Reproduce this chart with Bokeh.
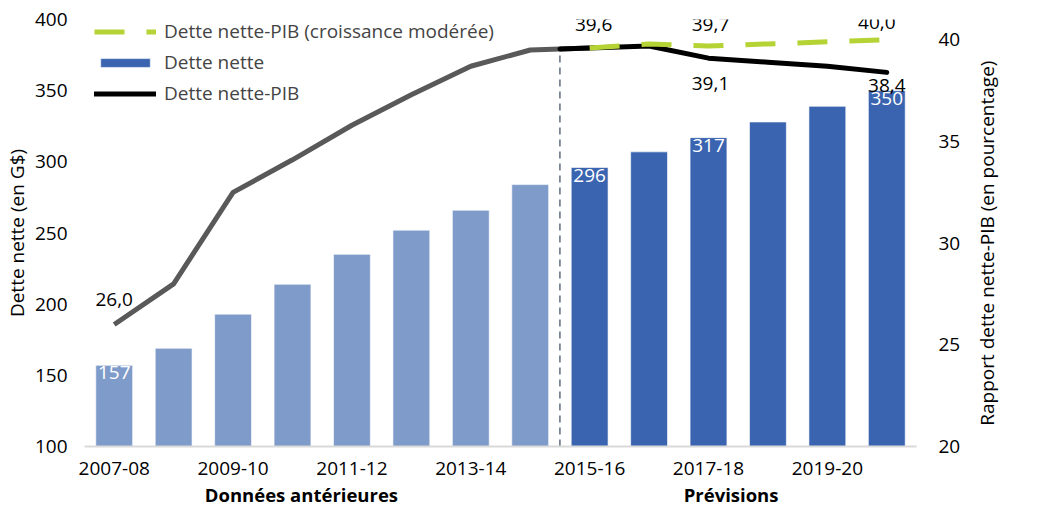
import math
from bokeh.plotting import figure
from bokeh.layouts import row
from bokeh.models import (Range1d, LinearAxis, FixedTicker, Legend, LegendItem,
                          ColumnDataSource, LabelSet, Label)
from bokeh.core.properties import value
from bokeh.embed import file_html
from bokeh.resources import INLINE

# ---------------- data ----------------
years = ["2007-08", "2008-09", "2009-10", "2010-11", "2011-12", "2012-13", "2013-14",
         "2014-15", "2015-16", "2016-17", "2017-18", "2018-19", "2019-20", "2020-21"]
n_hist = 8
debt = [157, 169, 193, 214, 235, 252, 266, 284, 296, 307, 317, 328, 339, 350]
debt_labelled = [0, 8, 10, 13]
ratio_hist = [26.0, 28.0, 32.5, 34.1, 35.8, 37.3, 38.7, 39.5]
ratio_fcst = [39.6, 39.7, 39.1, 38.9, 38.7, 38.4]
ratio_mod = [39.6, 39.8, 39.7, 39.8, 39.9, 40.0]
group_names = ["Données antérieures", "Prévisions"]
left_ticks = [100, 150, 200, 250, 300, 350, 400]
right_ticks = [20, 25, 30, 35, 40]
right_title = "Rapport dette nette-PIB (en pourcentage)"

FONT = "Open Sans"
FS = "19px"
LIGHT = "#7F9BC9"
DARK = "#3A64AF"
GREEN = "#B5D334"
RATIO_RANGE = (20, 41)

def fr(v, d=1):
    return f"{v:.{d}f}".replace(".", ",")

xs = list(range(len(years)))
x_hist = xs[:n_hist]
x_fcst = xs[n_hist:]

FW, FH = 832, 427
p = figure(frame_width=FW, frame_height=FH, output_backend="svg", toolbar_location=None,
           x_range=Range1d(-0.5, len(years) - 0.5), y_range=Range1d(100, 400),
           min_border_left=77, min_border_right=55, min_border_top=19, min_border_bottom=40)
p.outline_line_color = None
p.xgrid.visible = False
p.ygrid.visible = False
p.extra_y_ranges = {"ratio": Range1d(*RATIO_RANGE)}

# bars
bh = p.vbar(x=x_hist, top=debt[:n_hist], bottom=100, width=0.62, fill_color=LIGHT,
            line_color="#FFFFFF", line_width=0.6)
bf = p.vbar(x=x_fcst, top=debt[n_hist:], bottom=100, width=0.62, fill_color=DARK,
            line_color="#FFFFFF", line_width=0.6)

# divider between history and forecast
div = (x_hist[-1] + x_fcst[0]) / 2
mid = (ratio_hist[-1] + ratio_fcst[0]) / 2
p.segment(x0=[div], y0=[20], x1=[div], y1=[mid], y_range_name="ratio",
          line_color="#44546A", line_width=1.3, line_dash="7 5")

# lines
lg = p.line(x_hist + [x_fcst[0]], ratio_hist + [ratio_fcst[0]], y_range_name="ratio",
            line_color="#595959", line_width=5)
lb = p.line([div] + x_fcst, [mid] + ratio_fcst, y_range_name="ratio",
            line_color="#000000", line_width=5, line_cap="round")
lm = p.line(x_fcst, ratio_mod, y_range_name="ratio",
            line_color=GREEN, line_width=5, line_dash="30 22")

# bar labels
bsrc = ColumnDataSource(dict(x=[xs[i] for i in debt_labelled],
                             y=[debt[i] for i in debt_labelled],
                             t=[str(debt[i]) for i in debt_labelled]))
p.add_layout(LabelSet(x="x", y="y", text="t", source=bsrc, text_color="white",
                      text_font=value(FONT), text_font_size=FS, text_align="center",
                      text_baseline="top", y_offset=-1))

# line labels
def add_lab(x, y, dx, dy):
    p.add_layout(Label(x=x, y=y, text=fr(y), x_offset=dx, y_offset=dy, y_range_name="ratio",
                       text_font=FONT, text_font_size=FS, text_color="#000000",
                       text_align="center", text_baseline="middle"))

add_lab(x_hist[0], ratio_hist[0], 0, 25)
add_lab(x_fcst[0], ratio_fcst[0], 4, 23)
add_lab(x_fcst[2], ratio_mod[2], 2, 21)
add_lab(x_fcst[2], ratio_fcst[2], 2, -25)
add_lab(x_fcst[-1], ratio_mod[-1], -10, 17)
add_lab(x_fcst[-1], ratio_fcst[-1], 0, -13)

# axes
def style_axis(ax):
    ax.axis_line_color = None
    ax.major_tick_line_color = None
    ax.minor_tick_line_color = None
    ax.major_tick_out = 0
    ax.major_tick_in = 0
    ax.minor_tick_out = 0
    ax.minor_tick_in = 0
    ax.major_label_text_font = FONT
    ax.major_label_text_font_size = FS
    ax.major_label_text_color = "#000000"
    ax.axis_label_text_font = FONT
    ax.axis_label_text_font_size = FS
    ax.axis_label_text_font_style = "normal"
    ax.axis_label_text_color = "#000000"

yl = p.yaxis[0]
style_axis(yl)
yl.ticker = FixedTicker(ticks=left_ticks)
yl.axis_label = "Dette nette (en G$)"
yl.major_label_standoff = 17
yl.axis_label_standoff = 2

yr = LinearAxis(y_range_name="ratio", ticker=FixedTicker(ticks=right_ticks))
style_axis(yr)
yr.major_label_standoff = 22
p.add_layout(yr, "right")

xa = p.xaxis[0]
style_axis(xa)
xa.axis_line_color = "#D9D9D9"
xa.axis_line_width = 2
xa.ticker = FixedTicker(ticks=xs[::2])
xa.major_label_overrides = {i: years[i] for i in xs[::2]}
xa.major_label_standoff = 15
xa.major_label_text_line_height = 0.9

# group captions under the x axis
gcent = [sum(x_hist) / len(x_hist) - 0.35, sum(x_fcst) / len(x_fcst) - 0.12]
xg = LinearAxis(ticker=FixedTicker(ticks=gcent),
                major_label_overrides={gcent[0]: group_names[0], gcent[1]: group_names[1]})
style_axis(xg)
xg.major_label_text_font_style = "bold"
xg.major_label_text_font_size = "18.5px"
xg.major_label_standoff = 4
xg.major_label_text_line_height = 0.9
p.add_layout(xg, "below")

# legend
legend = Legend(items=[LegendItem(label="Dette nette-PIB (croissance modérée)", renderers=[lm]),
                       LegendItem(label="Dette nette", renderers=[bf]),
                       LegendItem(label="Dette nette-PIB", renderers=[lb])],
                location=(10, 340), margin=0, padding=4, spacing=5,
                glyph_width=62, glyph_height=11, label_height=18,
                label_text_font=FONT, label_text_font_size=FS, label_standoff=8,
                background_fill_alpha=0, border_line_color=None)
p.add_layout(legend)

# right-hand axis title (bottom-to-top), drawn in a narrow companion panel
pt = figure(frame_width=30, frame_height=FH, output_backend="svg", toolbar_location=None,
            x_range=Range1d(0, 1), y_range=Range1d(*RATIO_RANGE),
            x_axis_location=None, y_axis_location=None,
            min_border_left=0, min_border_right=0, min_border_top=19, min_border_bottom=62)
pt.outline_line_color = None
pt.xgrid.visible = False
pt.ygrid.visible = False
tmid = (right_ticks[0] + right_ticks[-1]) / 2
pt.text(x=[0.5], y=[tmid], text=[right_title], angle=math.pi / 2,
        text_align="center", text_baseline="middle", text_color="#000000",
        text_font=value(FONT), text_font_size=value(FS))

layout = row(p, pt, spacing=0)
open("out.html", "w").write(file_html(layout, INLINE))
